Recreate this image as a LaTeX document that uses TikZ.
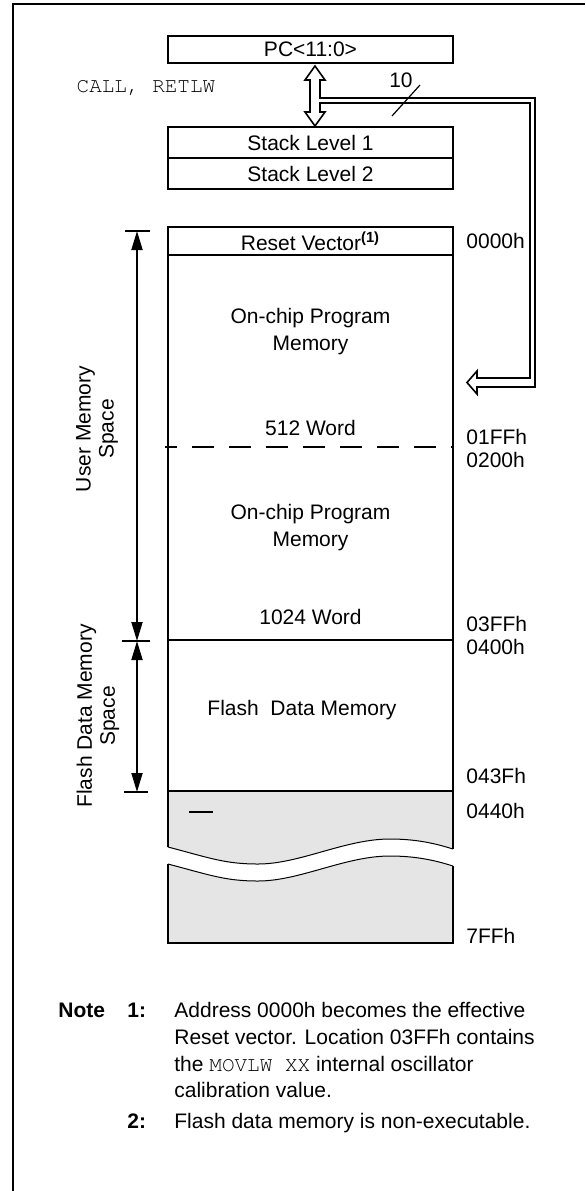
\documentclass[tikz,border=0pt]{standalone}
\usepackage{fontspec}
\setmainfont{Liberation Sans}
\setmonofont{TeX Gyre Cursor}
\usetikzlibrary{arrows.meta, positioning}
\tikzset{
	membox/.style   ={rectangle, draw=black, line width=1pt, minimum width=142.5pt, inner sep=0pt, outer sep=0pt, font=\fontsize{10.5}{13.5}\selectfont},
	lbl/.style      ={inner sep=0pt, font=\fontsize{10.5}{13.5}\selectfont},
	addr/.style     ={lbl, anchor=west},
	notetxt/.style  ={lbl, anchor=base west},
	notenum/.style  ={lbl, anchor=base west, font=\fontsize{10.5}{13.5}\selectfont\bfseries},
	spanarrow/.style={{Triangle[length=9.5pt,width=5.5pt]}-{Triangle[length=9.5pt,width=5.5pt]}, line width=0.9pt},
	limit/.style    ={line width=0.9pt},
	busline/.style  ={line width=0.8pt, line join=miter},
	wave/.style     ={line width=0.5pt},
}

\begin{document}
\begin{tikzpicture}[x=0.5pt, y=-0.5pt]
	\useasboundingbox (0,0) rectangle (585,1191);
	\draw[line width=1.2pt] (13,1191) -- (13,4) -- (585,4);
	% PC and stack
	\node[membox, minimum height=13.5pt] (pc) at (310.5,49.5) {PC<11:0>};
	\node[membox, minimum height=15.5pt, below=32pt of pc] (st1) {Stack Level 1};
	\node[membox, minimum height=15.5pt, below=0pt of st1] (st2) {Stack Level 2};
	\node[lbl, font=\fontsize{10.5}{13.5}\selectfont\ttfamily] (call) at (146,88) {CALL, RETLW};
	\draw[busline] (315,66) -- (325,80) -- (320,80) -- (320,98) -- (535,98) -- (535,387) -- (477,387)
		-- (477,394) -- (467,382.5) -- (477,371) -- (477,378) -- (530,378) -- (530,103) -- (320,103)
		-- (320,112) -- (325,112) -- (315,126) -- (305,112) -- (310,112) -- (310,80) -- (305,80) -- cycle;
	\draw[line width=0.6pt] (392,116) -- (420,85);
	\node[lbl] (buswidth) at (401,80) {10};
	% memory map
	\node[membox, minimum height=14pt, below=19pt of st2] (rst) {Reset Vector\textsuperscript{\bfseries(1)}};
	\node[membox, minimum height=192.5pt, below=0pt of rst] (prog) {};
	\node[membox, minimum height=75.5pt, below=0pt of prog] (flash) {};
	\node[membox, draw=none, fill=black!10, minimum height=76pt, below=0pt of flash] (hole) {};
	\fill[white] (168,847) .. controls (210,858) and (225,864) .. (258,864) .. controls (300,864) and (345,839) .. (390,839) .. controls (420,839) and (440,845) .. (453,849)
		-- (453,866) .. controls (440,862) and (420,856) .. (390,856) .. controls (345,856) and (300,881) .. (258,881) .. controls (225,881) and (210,875) .. (168,864) -- cycle;
	\draw[wave] (168,847) .. controls (210,858) and (225,864) .. (258,864) .. controls (300,864) and (345,839) .. (390,839) .. controls (420,839) and (440,845) .. (453,849);
	\draw[wave] (168,864) .. controls (210,875) and (225,881) .. (258,881) .. controls (300,881) and (345,856) .. (390,856) .. controls (420,856) and (440,862) .. (453,866);
	\draw[line width=1pt] (168,847) -- (hole.north west) -- (hole.north east) -- (453,849);
	\draw[line width=1pt] (168,864) -- (hole.south west) -- (hole.south east) -- (453,866);
	\draw[line width=0.8pt] (189,812) -- (213,812);
	\draw[line width=1pt, dash pattern=on 11pt off 7.5pt, dash phase=5pt] (165,447) -- (453,447);
	\node[lbl, align=center] (prog1) at (310.5,331.5) {On-chip Program\\Memory};
	\node[lbl] (w512) at (310.5,428) {512 Word};
	\node[lbl, align=center] (prog2) at (310.5,528) {On-chip Program\\Memory};
	\node[lbl] (w1024) at (310.5,617) {1024 Word};
	\node[lbl] (flashtxt) at (302,710) {Flash\ \ Data Memory};
	% addresses
	\node[addr] (a0000) at (466,241) {0000h};
	\node[addr] (a01ff) at (466,437) {01FFh};
	\node[addr] (a0200) at (466,460) {0200h};
	\node[addr] (a03ff) at (466,624) {03FFh};
	\node[addr] (a0400) at (466,647) {0400h};
	\node[addr] (a043f) at (466,776) {043Fh};
	\node[addr] (a0440) at (466,811) {0440h};
	\node[addr] (a7ff) at (466,936) {7FFh};
	% spans
	\coordinate (utop) at (137,231);
	\coordinate (umid) at (137,641);
	\coordinate (ubot) at (137,792);
	\draw[limit] (125,231) -- (150,231);
	\draw[limit] (122,641) -- (150,641);
	\draw[limit] (124,792) -- (148,792);
	\draw[spanarrow] (utop) -- (umid);
	\draw[spanarrow] (umid) -- (ubot);
	\node[lbl, rotate=90, align=center, font=\fontsize{10.5}{11.5}\selectfont] (ulbl) at (97,429) {User Memory\\Space};
	\node[lbl, rotate=90, align=center, font=\fontsize{10.5}{11.5}\selectfont] (flbl) at (98,716) {Flash Data Memory\\Space};
	% notes
	\node[notenum] (note) at (58,1017) {Note};
	\node[notenum] (n1) at (127,1017) {1:};
	\node[notetxt] (n1a) at (174,1017) {Address 0000h becomes the effective};
	\node[notetxt] (n1b) at (174,1044) {Reset vector. Location 03FFh contains};
	\node[notetxt] (n1c) at (174,1071) {the \texttt{MOVLW XX} internal oscillator};
	\node[notetxt] (n1d) at (174,1097) {calibration value.};
	\node[notenum] (n2) at (127,1128) {2:};
	\node[notetxt] (n2a) at (174,1128) {Flash data memory is non-executable.};
\end{tikzpicture}
\end{document}
